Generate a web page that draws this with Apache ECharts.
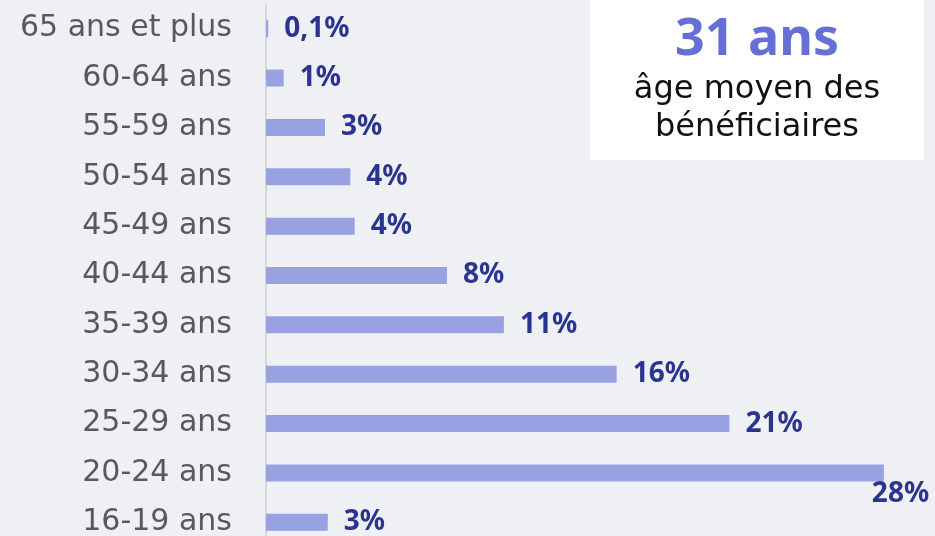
<!DOCTYPE html>
<html>
<head>
<meta charset="utf-8">
<script src="https://cdn.jsdelivr.net/npm/echarts@6/dist/echarts.min.js"></script>
<style>
html,body{margin:0;padding:0;background:#eff0f4;}
#c{width:935px;height:536px;}
</style>
</head>
<body>
<div id="c"></div>
<script>
var categories = ['65 ans et plus','60-64 ans','55-59 ans','50-54 ans','45-49 ans','40-44 ans','35-39 ans','30-34 ans','25-29 ans','20-24 ans','16-19 ans'];
var values = [0.1, 0.8, 2.67, 3.82, 4.02, 8.2, 10.78, 15.89, 21.0, 28.0, 2.8];
var valueLabels = ['0,1%','1%','3%','4%','4%','8%','11%','16%','21%','28%','3%'];
var headline = '31 ans';
var subtitle = 'âge moyen des\nbénéficiaires';

var FONT = '"Noto Sans"';
var FONT_TXT = '"DejaVu Sans"';
var chart = echarts.init(document.getElementById('c'));

var data = values.map(function (v, i) {
  var item = { value: v };
  if (i === 9) {
    item.label = { position: 'right', distance: 5, offset: [-17, 21] };
  }
  return item;
});

chart.setOption({
  backgroundColor: '#eff0f4',
  animation: false,
  grid: { left: 266, top: 4, width: 662, height: 543, outerBoundsMode: 'none', containLabel: false },
  xAxis: {
    type: 'value', min: 0, max: 30,
    show: false
  },
  yAxis: {
    type: 'category',
    data: categories,
    inverse: true,
    axisLine: { show: true, lineStyle: { color: '#d6d7dc', width: 2 } },
    axisTick: { show: false },
    axisLabel: {
      margin: 34,
      color: '#595959',
      fontFamily: FONT_TXT,
      fontSize: 30
    }
  },
  series: [{
    type: 'bar',
    data: data,
    barWidth: 17,
    itemStyle: { color: '#98a1e2' },
    label: {
      show: true,
      position: 'right',
      distance: 16,
      color: '#2b3590',
      fontFamily: FONT,
      fontWeight: 'bold',
      fontSize: 28,
      formatter: function (p) { return valueLabels[p.dataIndex]; }
    }
  }],
  graphic: [
    { type: 'rect', shape: { x: 590, y: 0, width: 334, height: 160 }, style: { fill: '#ffffff' } },
    { type: 'text', x: 757, y: 14, style: { text: headline, fill: '#6670d4', font: 'bold 52px ' + FONT, textAlign: 'center', textVerticalAlign: 'top' } },
    { type: 'text', x: 757, y: 71, style: { text: subtitle, fill: '#111111', font: '32px ' + FONT_TXT, lineHeight: 38, textAlign: 'center', textVerticalAlign: 'top' } }
  ]
});
</script>
</body>
</html>
